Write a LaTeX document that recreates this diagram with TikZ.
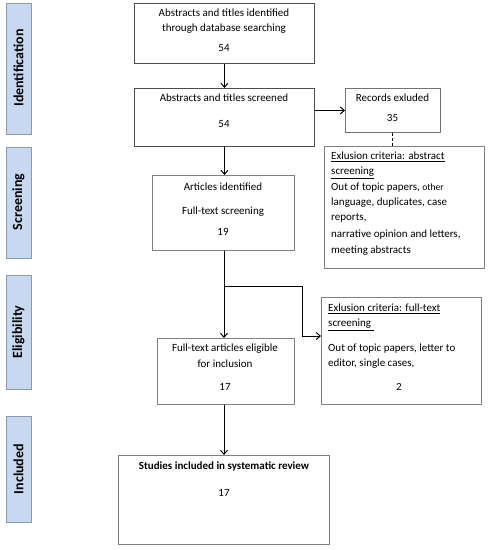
\documentclass[tikz,border=0pt]{standalone}
\usepackage{fontspec}
\setmainfont{Carlito}
\usetikzlibrary{arrows.meta}
\definecolor{sidefill}{HTML}{C6D9F1}
\definecolor{sideline}{HTML}{8A9BB0}
\begin{document}
\begin{tikzpicture}[x=1pt,y=-1pt,
  box/.style={draw=#1,line width=0.9pt,inner sep=0pt,anchor=north west},
  box/.default={black!70},
  side/.style={draw=sideline,fill=sidefill,line width=0.8pt,inner sep=0pt,anchor=north west,minimum width=25pt},
  sidetxt/.style={rotate=90,font=\fontsize{14}{16}\selectfont\bfseries},
  txt/.style={font=\fontsize{11}{13}\selectfont,inner sep=0pt},
  ltxt/.style={txt,anchor=west},
  arr/.style={line width=1pt,-{Straight Barb[length=4pt,width=7pt,line width=1pt]}},
  ln/.style={line width=1pt}]
\useasboundingbox (0,0) rectangle (489,550);
% side bars
\node[side,minimum height=131pt] (s1) at (6,3) {};
\node[sidetxt] (s1t) at (18.5,68) {Identification};
\node[side,minimum height=111pt] (s2) at (6,147) {};
\node[sidetxt] (s2t) at (18.5,202) {Screening};
\node[side,minimum height=114pt] (s3) at (6,275) {};
\node[sidetxt] (s3t) at (18.5,332) {Eligibility};
\node[side,minimum height=106pt] (s4) at (6,416) {};
\node[sidetxt] (s4t) at (18.5,469) {Included};
% boxes
\node[box,minimum width=180pt,minimum height=60pt] (b1) at (134,3) {};
\node[box,minimum width=180pt,minimum height=58pt] (b2) at (134,88) {};
\node[box=black!55,minimum width=95pt,minimum height=44pt] (rec) at (345,88) {};
\node[box=black!50,minimum width=160pt,minimum height=122pt] (c1) at (324,146) {};
\node[box=black!50,minimum width=142pt,minimum height=75pt] (art) at (152,175) {};
\node[box=black!50,minimum width=160pt,minimum height=107pt] (c2) at (321,297) {};
\node[box=black!50,minimum width=137pt,minimum height=66pt] (elig) at (157,338) {};
\node[box=black!50,minimum width=211pt,minimum height=89pt] (inc) at (118,455) {};
% texts
\node[txt] (b1a) at (224,13) {Abstracts and titles identified};
\node[txt] (b1b) at (224,29) {through database searching};
\node[txt] (b1c) at (224,48) {54};
\node[txt] (b2a) at (224,98) {Abstracts and titles screened};
\node[txt] (b2b) at (224,124) {54};
\node[txt] (reca) at (392.5,98) {Records exluded};
\node[txt] (recb) at (392.5,118) {35};
\node[ltxt] (c1a) at (331,157) {\underline{Exlusion criteria: abstract}};
\node[ltxt] (c1b) at (331,173) {\underline{screening}};
\node[ltxt] (c1c) at (331,188) {Out of topic papers, {\fontsize{9.6}{11}\selectfont other}};
\node[ltxt] (c1d) at (331,203) {language, duplicates, case};
\node[ltxt] (c1e) at (331,218) {reports,};
\node[ltxt] (c1f) at (331,235) {narrative opinion and letters,};
\node[ltxt] (c1g) at (331,251) {meeting abstracts};
\node[txt] (arta) at (223,187) {Articles identified};
\node[txt] (artb) at (223,212) {Full-text screening};
\node[txt] (artc) at (223,232) {19};
\node[ltxt] (c2a) at (328,309) {\underline{Exlusion criteria: full-text}};
\node[ltxt] (c2b) at (328,325) {\underline{screening\ }};
\node[ltxt] (c2c) at (328,349) {Out of topic papers, letter to};
\node[ltxt] (c2d) at (328,364) {editor, single cases,};
\node[txt] (c2e) at (399,387) {2};
\node[txt] (ela) at (225,349) {Full-text articles eligible};
\node[txt] (elb) at (225,364) {for inclusion};
\node[txt] (elc) at (225,387) {17};
\node[txt,font=\fontsize{11}{13}\selectfont\bfseries] (inca) at (224,466) {Studies included in systematic review};
\node[txt] (incb) at (224,493) {17};
% connectors
\draw[arr] (b1.south) -- (b2.north);
\draw[arr] (b2.east |- rec.west) -- (rec.west);
\draw[ln,dashed,dash pattern=on 3pt off 2pt] (rec.south) -- (rec.south |- c1.north);
\draw[arr] (b2.south) -- (b2.south |- art.north);
\coordinate (br) at (224,286);
\coordinate (bc) at (302,286);
\draw[ln] (art.south -| br) -- (br);
\draw[arr] (br) -- (br |- elig.north);
\draw[arr] (br) -- (bc) -- (bc |- 0,336) -- (c2.west |- 0,336);
\draw[arr] (elig.south -| br) -- (br |- inc.north);
\end{tikzpicture}
\end{document}
